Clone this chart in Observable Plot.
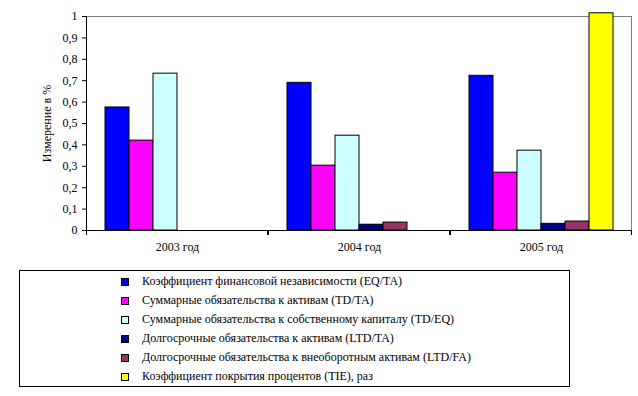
<!DOCTYPE html>
<html>
<head>
<meta charset="utf-8">
<script src="https://cdn.jsdelivr.net/npm/d3@7"></script>
<script src="https://cdn.jsdelivr.net/npm/@observablehq/plot@0.6"></script>
<style>
  html, body { margin: 0; padding: 0; background: #fff; }
  #wrap { position: relative; width: 638px; height: 396px; font-family: "Liberation Serif", "Times New Roman", serif; }
  #legend { position: absolute; left: 19px; top: 270px; width: 551px; height: 117px; box-sizing: border-box; border: 1px solid #000; }
  .row { position: absolute; left: 0; height: 19px; line-height: 19px; font-size: 12px; white-space: nowrap; color: #000; }
  .sw { position: absolute; left: 101px; top: 6px; width: 8px; height: 8px; box-sizing: border-box; border: 1px solid #000; }
  .lbl { position: absolute; left: 122px; top: 0; }
</style>
</head>
<body>
<div id="wrap"><div id="chart"></div><div id="legend"></div></div>
<script>
const years = ["2003 год", "2004 год", "2005 год"];
const keys = ["EQ/TA", "TD/TA", "TD/EQ", "LTD/TA", "LTD/FA", "TIE"];
const seriesNames = [
  "Коэффициент финансовой независимости (EQ/TA)",
  "Суммарные обязательства к активам (TD/TA)",
  "Суммарные обязательства к собственному капиталу (TD/EQ)",
  "Долгосрочные обязательства к активам (LTD/TA)",
  "Долгосрочные обязательства к внеоборотным активам (LTD/FA)",
  "Коэффициент покрытия процентов (TIE), раз"
];
const eqTa  = [0.575, 0.690, 0.723];
const tdTa  = [0.420, 0.303, 0.270];
const tdEq  = [0.733, 0.443, 0.373];
const ltdTa = [null, 0.027, 0.031];
const ltdFa = [null, 0.037, 0.042];
const tie   = [null, null, 1.015];
const colors = ["#0000FF", "#FF00FF", "#CCFFFF", "#000080", "#993366", "#FFFF00"];
const yTicks = [0, 0.1, 0.2, 0.3, 0.4, 0.5, 0.6, 0.7, 0.8, 0.9, 1];
const yLabel = "Измерение в %";

const seriesValues = [eqTa, tdTa, tdEq, ltdTa, ltdFa, tie];
const data = [];
years.forEach((yr, i) => {
  keys.forEach((k, j) => {
    const v = seriesValues[j][i];
    if (v != null) data.push({year: yr, key: k, value: v});
  });
});

const FONT = "Liberation Serif";

// Frame lines and category boundary ticks, drawn per facet from the plot's own dimensions
function decorations(index, scales, values, dim) {
  const g = d3.create("svg:g").attr("fill", "none");
  if (!index.length) return g.node();
  const i = index[0];
  const {width, height, marginLeft, marginRight, marginTop, marginBottom} = dim;
  const x0 = marginLeft, x1 = width - marginRight, y0 = marginTop, y1 = height - marginBottom;
  g.append("line").attr("x1", x0).attr("x2", x1).attr("y1", y0 + 0.5).attr("y2", y0 + 0.5).attr("stroke", "#808080");
  if (i === years.length - 1)
    g.append("line").attr("x1", x1 - 0.5).attr("x2", x1 - 0.5).attr("y1", y0).attr("y2", y1).attr("stroke", "#808080");
  if (i === 0)
    g.append("line").attr("x1", x0 + 0.5).attr("x2", x0 + 0.5).attr("y1", y0).attr("y2", y1 + 1).attr("stroke", "#000");
  g.append("line").attr("x1", x0).attr("x2", x1).attr("y1", y1 + 0.5).attr("y2", y1 + 0.5).attr("stroke", "#000");
  for (const x of [x0 + 0.5, x1 - 0.5])
    g.append("line").attr("x1", x).attr("x2", x).attr("y1", y1).attr("y2", y1 + 5).attr("stroke", "#000");
  return g.node();
}

const chart = Plot.plot({
  width: 638,
  height: 262,
  marginLeft: 85,
  marginRight: 6,
  marginTop: 16,
  marginBottom: 32,
  style: {fontFamily: FONT, fontSize: "12px", background: "transparent"},
  fx: {domain: years, padding: 0},
  x: {domain: keys, paddingInner: 0, paddingOuter: 0.72, axis: null},
  y: {domain: [0, 1]},
  color: {domain: keys, range: colors},
  marks: [
    Plot.dot(years, {fx: d => d, frameAnchor: "middle", render: decorations}),
    Plot.barY(data, {fx: "year", x: "key", y: "value", fill: "key", stroke: "#000", strokeWidth: 1, clip: false}),
    Plot.axisY({ticks: yTicks, tickSize: 4, tickPadding: 5, tickFormat: d => String(d).replace(".", ","), label: null, fontSize: 12, fontFamily: FONT}),
    Plot.axisFx({anchor: "bottom", tickSize: 0, tickPadding: 12, label: null, fontSize: 12, fontFamily: FONT}),
    Plot.text([yLabel], {fx: () => years[0], text: d => d, frameAnchor: "left", rotate: -90, dx: -39, textAnchor: "middle", fontSize: 12, fontFamily: FONT})
  ]
});
document.getElementById("chart").appendChild(chart);

const legend = d3.select("#legend");
seriesNames.forEach((name, j) => {
  const row = legend.append("div").attr("class", "row").style("top", (1 + j * 19) + "px");
  row.append("div").attr("class", "sw").style("background", colors[j]);
  row.append("div").attr("class", "lbl").text(name);
});
</script>
</body>
</html>
